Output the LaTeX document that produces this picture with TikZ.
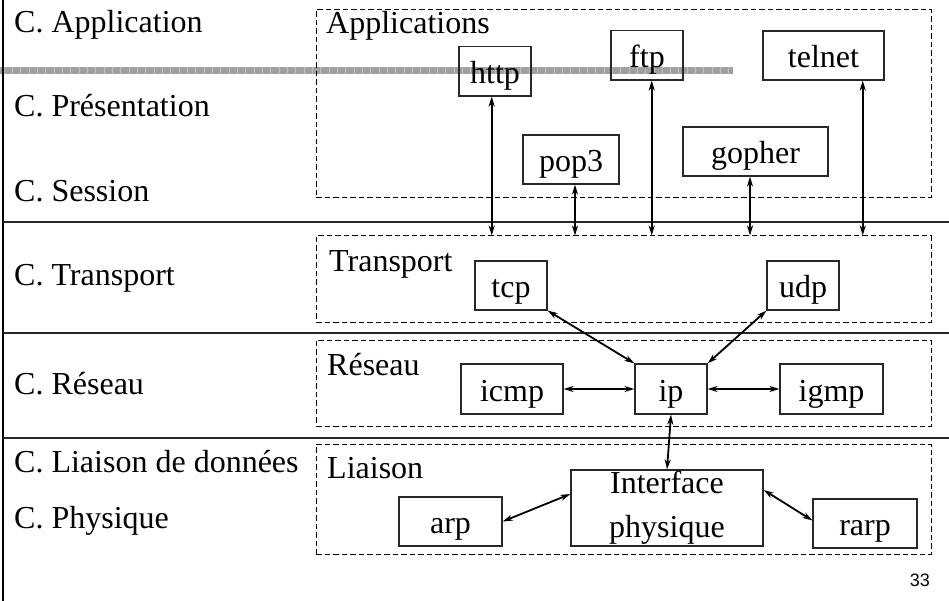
\documentclass[tikz,border=0pt]{standalone}
\usepackage{fontspec}
\setmainfont{Liberation Serif}
\newfontfamily\pagefont{Liberation Sans}
\usetikzlibrary{arrows.meta}
\definecolor{bargray}{RGB}{160,160,160}
\definecolor{barline}{RGB}{192,192,192}
\definecolor{boxline}{RGB}{40,40,40}
\tikzset{
  lbl/.style={font=\fontsize{32}{38}\selectfont, inner sep=0pt, anchor=base west},
  pbox/.style={draw=boxline, line width=1.2pt, inner sep=0pt,
    font=\fontsize{32}{38}\selectfont, text height=30pt, text depth=6pt},
  dbox/.style={draw=black, line width=0.9pt, dash pattern=on 5.5pt off 3pt,
    inner sep=0pt, minimum width=615pt},
  biarr/.style={line width=1.8pt, {Stealth[length=10pt,width=6pt,inset=3pt]}-{Stealth[length=10pt,width=6pt,inset=3pt]}},
  sep/.style={draw=boxline, line width=1.2pt}
}
\begin{document}
\begin{tikzpicture}[x=1pt,y=-1pt]
\useasboundingbox (0,0) rectangle (949,601);
% hatched gray bar
\fill[bargray] (0,66.7) rectangle (733,74);
\foreach \i in {0,...,87} {\draw[barline, line width=0.5pt] (\i*8.33+4,66.7) -- (\i*8.33+4,74);}
% frame lines
\draw[black, line width=2.4pt] (3.2,0) -- (3.2,601);
\draw[sep] (3,222) -- (949,222);
\draw[sep] (3,333) -- (949,333);
\draw[sep] (3,438) -- (949,438);
% layer labels
\node[lbl] (lapp) at (14,33) {C. Application};
\node[lbl] (lpre) at (14,117) {C. Présentation};
\node[lbl] (lses) at (14,202) {C. Session};
\node[lbl] (ltra) at (14,285) {C. Transport};
\node[lbl] (lres) at (14,394) {C. Réseau};
\node[lbl] (llia) at (14,472) {C. Liaison de données};
\node[lbl] (lphy) at (14,528) {C. Physique};
% dashed groups
\node[dbox, minimum height=187.7pt] (appbox) at (623.5,103.2) {};
\node[dbox, minimum height=86.7pt] (trbox) at (623.5,279.3) {};
\node[dbox, minimum height=86.7pt] (rsbox) at (623.5,383.3) {};
\node[dbox, minimum height=110pt] (lnbox) at (623.5,499) {};
\node[lbl] (tapp) at (326,34) {Applications};
\node[lbl] (ttra) at (329,272) {Transport};
\node[lbl] (tres) at (327,375) {Réseau};
\node[lbl] (tlia) at (327,478) {Liaison};
% protocol boxes
\node[pbox, minimum width=72pt, minimum height=49.3pt] (http) at (495,71.3) {http};
\node[pbox, minimum width=72pt, minimum height=49.3pt] (ftp) at (647,55.3) {ftp};
\node[pbox, minimum width=96pt, minimum height=49pt] (pop3) at (571,159.5) {pop3};
\node[pbox, minimum width=145pt, minimum height=49pt] (gopher) at (755.5,151.5) {gopher};
\node[pbox, minimum width=121pt, minimum height=49pt] (telnet) at (823.5,55.5) {telnet};
\node[pbox, minimum width=72pt, minimum height=49pt] (tcp) at (511,285.5) {tcp};
\node[pbox, minimum width=72pt, minimum height=49pt] (udp) at (803,285.5) {udp};
\node[pbox, minimum width=102pt, minimum height=50pt] (icmp) at (512,389) {icmp};
\node[pbox, minimum width=72pt, minimum height=50pt] (ip) at (671,389) {ip};
\node[pbox, minimum width=103pt, minimum height=50pt] (igmp) at (831.5,389) {igmp};
\node[pbox, minimum width=103pt, minimum height=49pt] (arp) at (450.5,521.5) {arp};
\node[pbox, minimum width=104pt, minimum height=49pt] (rarp) at (865,523.5) {rarp};
\node[draw=boxline, line width=1.2pt, inner sep=0pt, minimum width=192pt, minimum height=76pt,
  align=center, font=\fontsize{32}{44}\selectfont] (iface) at (667,508) {Interface\\physique};
% page number
\node[font=\pagefont\fontsize{18}{20}\selectfont, inner sep=0pt, anchor=base east] (pnum) at (930,586) {33};
% connectors
\draw[biarr] ([xshift=-3.3pt]http.south) -- ([xshift=-3.3pt]http.south |- trbox.north);
\draw[biarr] ([xshift=4pt]pop3.south) -- ([xshift=4pt]pop3.south |- trbox.north);
\draw[biarr] ([xshift=4.7pt]ftp.south) -- ([xshift=4.7pt]ftp.south |- trbox.north);
\draw[biarr] ([xshift=-5.5pt]gopher.south) -- ([xshift=-5.5pt]gopher.south |- trbox.north);
\draw[biarr] ([xshift=39.2pt]telnet.south) -- ([xshift=39.2pt]telnet.south |- trbox.north);
\draw[biarr] (tcp.south east) -- (ip.north west);
\draw[biarr] (udp.south west) -- (ip.north east);
\draw[biarr] (icmp.east) -- (ip.west);
\draw[biarr] (ip.east) -- (igmp.west);
\draw[biarr] (ip.south) -- (iface.north);
\draw[biarr] (arp.east) -- ([yshift=14pt]iface.west);
\draw[biarr] ([yshift=18pt]iface.east) -- ([yshift=3pt]rarp.west);
\end{tikzpicture}
\end{document}
